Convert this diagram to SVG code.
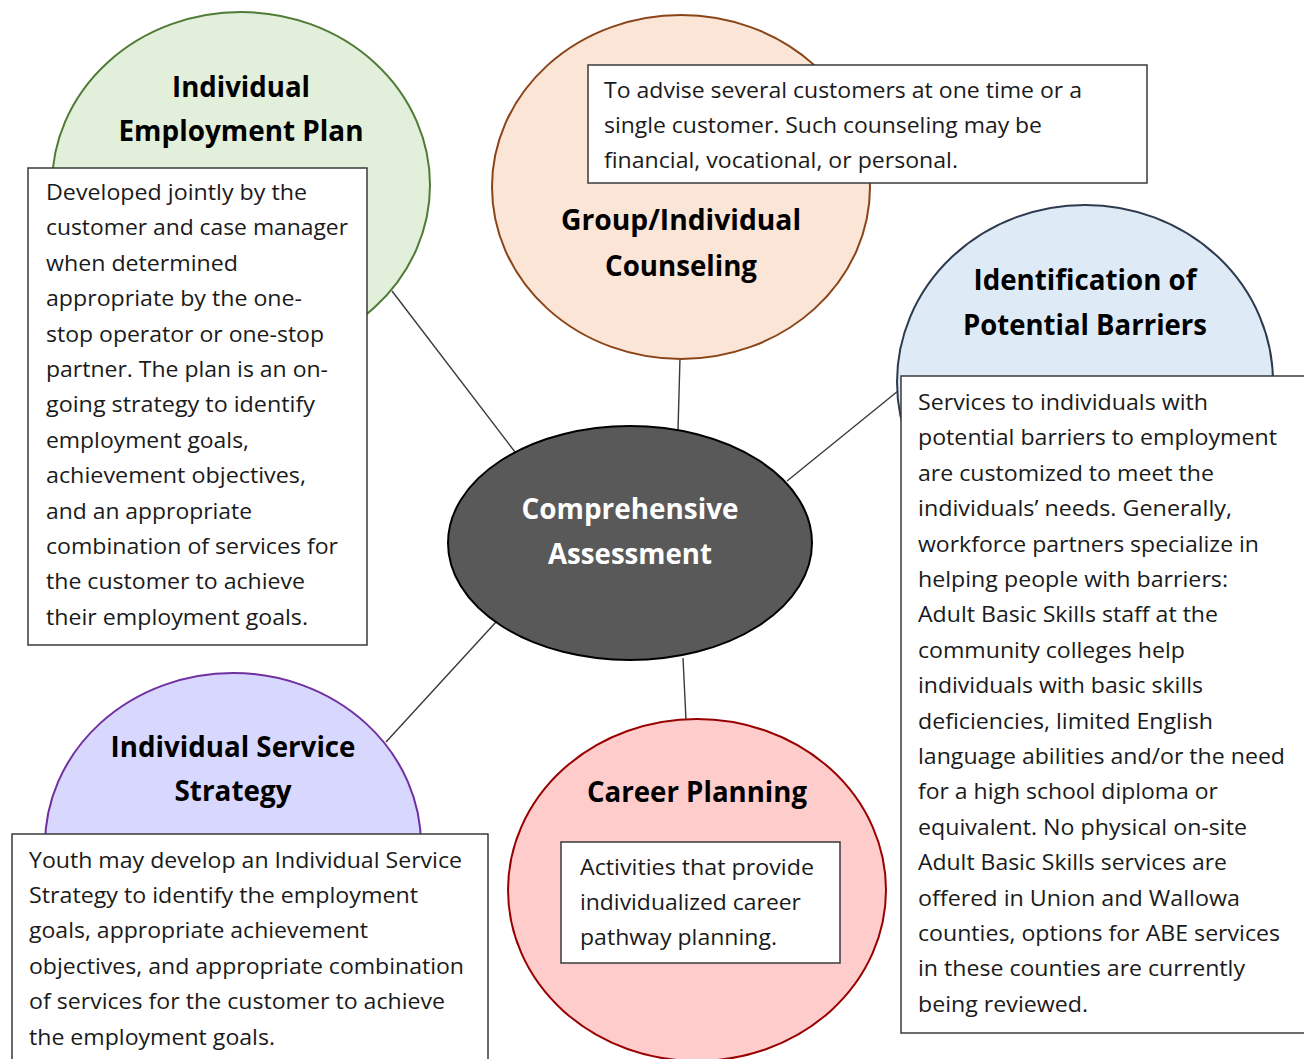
<svg xmlns="http://www.w3.org/2000/svg" width="1304" height="1059" viewBox="0 0 1304 1059">
  <style>
    .body { font-family: "Open Sans", "Liberation Sans", sans-serif; font-size: 21px; fill: #1a1a1a; }
    .title { font-family: "Open Sans", "Liberation Sans", sans-serif; font-size: 28px; font-weight: bold; fill: #000; text-anchor: middle; }
    .title-light { fill: #ffffff; }
    .box { fill: #ffffff; stroke: #3a3a3a; stroke-width: 1.5; }
    .link { stroke: #3a3a3a; stroke-width: 1.4; fill: none; }
  </style>

  <rect x="0" y="0" width="1304" height="1059" fill="#ffffff"/>

  <!-- spokes from the central assessment to each service -->
  <g id="connectors">
    <line class="link" x1="392" y1="291" x2="515" y2="452"/>
    <line class="link" x1="680" y1="358" x2="678" y2="430"/>
    <line class="link" x1="787" y1="481" x2="898" y2="391"/>
    <line class="link" x1="386" y1="742" x2="496" y2="622"/>
    <line class="link" x1="683" y1="658" x2="686" y2="720"/>
  </g>

  <!-- Individual Employment Plan -->
  <g id="node-iep">
    <ellipse cx="241" cy="185" rx="189" ry="173" fill="#E2EFDA" stroke="#4F7B36" stroke-width="2"/>
    <text class="title" x="241" y="97" textLength="138" lengthAdjust="spacingAndGlyphs">Individual</text>
    <text class="title" x="241" y="141" textLength="245" lengthAdjust="spacingAndGlyphs">Employment Plan</text>
    <rect class="box" x="28" y="168" width="339" height="477"/>
    <text class="body" x="46" y="200" textLength="261" lengthAdjust="spacingAndGlyphs">Developed jointly by the</text>
    <text class="body" x="46" y="235.4" textLength="302" lengthAdjust="spacingAndGlyphs">customer and case manager</text>
    <text class="body" x="46" y="270.8" textLength="192" lengthAdjust="spacingAndGlyphs">when determined</text>
    <text class="body" x="46" y="306.2" textLength="256" lengthAdjust="spacingAndGlyphs">appropriate by the one-</text>
    <text class="body" x="46" y="341.6" textLength="278" lengthAdjust="spacingAndGlyphs">stop operator or one-stop</text>
    <text class="body" x="46" y="377" textLength="282" lengthAdjust="spacingAndGlyphs">partner. The plan is an on-</text>
    <text class="body" x="46" y="412.4" textLength="269" lengthAdjust="spacingAndGlyphs">going strategy to identify</text>
    <text class="body" x="46" y="447.8" textLength="203" lengthAdjust="spacingAndGlyphs">employment goals,</text>
    <text class="body" x="46" y="483.2" textLength="260" lengthAdjust="spacingAndGlyphs">achievement objectives,</text>
    <text class="body" x="46" y="518.6" textLength="206" lengthAdjust="spacingAndGlyphs">and an appropriate</text>
    <text class="body" x="46" y="554" textLength="292" lengthAdjust="spacingAndGlyphs">combination of services for</text>
    <text class="body" x="46" y="589.4" textLength="259" lengthAdjust="spacingAndGlyphs">the customer to achieve</text>
    <text class="body" x="46" y="624.8" textLength="262" lengthAdjust="spacingAndGlyphs">their employment goals.</text>
  </g>

  <!-- Group/Individual Counseling -->
  <g id="node-counseling">
    <ellipse cx="681" cy="187" rx="189" ry="172" fill="#FBE5D6" stroke="#8A4418" stroke-width="2"/>
    <rect class="box" x="588" y="65" width="559" height="118"/>
    <text class="body" x="604" y="98" textLength="478" lengthAdjust="spacingAndGlyphs">To advise several customers at one time or a</text>
    <text class="body" x="604" y="133" textLength="438" lengthAdjust="spacingAndGlyphs">single customer. Such counseling may be</text>
    <text class="body" x="604" y="168" textLength="354" lengthAdjust="spacingAndGlyphs">financial, vocational, or personal.</text>
    <text class="title" x="681" y="230" textLength="240" lengthAdjust="spacingAndGlyphs">Group/Individual</text>
    <text class="title" x="681" y="276" textLength="152" lengthAdjust="spacingAndGlyphs">Counseling</text>
  </g>

  <!-- Identification of Potential Barriers -->
  <g id="node-barriers">
    <ellipse cx="1085" cy="382" rx="188" ry="177" fill="#DEEBF7" stroke="#2E3A4E" stroke-width="2"/>
    <text class="title" x="1085" y="290" textLength="223" lengthAdjust="spacingAndGlyphs">Identification of</text>
    <text class="title" x="1085" y="335" textLength="244" lengthAdjust="spacingAndGlyphs">Potential Barriers</text>
    <rect class="box" x="901" y="376" width="420" height="657"/>
    <text class="body" x="918" y="410" textLength="290" lengthAdjust="spacingAndGlyphs">Services to individuals with</text>
    <text class="body" x="918" y="445.4" textLength="359" lengthAdjust="spacingAndGlyphs">potential barriers to employment</text>
    <text class="body" x="918" y="480.8" textLength="296" lengthAdjust="spacingAndGlyphs">are customized to meet the</text>
    <text class="body" x="918" y="516.2" textLength="314" lengthAdjust="spacingAndGlyphs">individuals’ needs. Generally,</text>
    <text class="body" x="918" y="551.6" textLength="341" lengthAdjust="spacingAndGlyphs">workforce partners specialize in</text>
    <text class="body" x="918" y="587" textLength="310" lengthAdjust="spacingAndGlyphs">helping people with barriers:</text>
    <text class="body" x="918" y="622.4" textLength="300" lengthAdjust="spacingAndGlyphs">Adult Basic Skills staff at the</text>
    <text class="body" x="918" y="657.8" textLength="267" lengthAdjust="spacingAndGlyphs">community colleges help</text>
    <text class="body" x="918" y="693.2" textLength="285" lengthAdjust="spacingAndGlyphs">individuals with basic skills</text>
    <text class="body" x="918" y="728.6" textLength="295" lengthAdjust="spacingAndGlyphs">deficiencies, limited English</text>
    <text class="body" x="918" y="764" textLength="367" lengthAdjust="spacingAndGlyphs">language abilities and/or the need</text>
    <text class="body" x="918" y="799.4" textLength="300" lengthAdjust="spacingAndGlyphs">for a high school diploma or</text>
    <text class="body" x="918" y="834.8" textLength="329" lengthAdjust="spacingAndGlyphs">equivalent. No physical on-site</text>
    <text class="body" x="918" y="870.2" textLength="309" lengthAdjust="spacingAndGlyphs">Adult Basic Skills services are</text>
    <text class="body" x="918" y="905.6" textLength="322" lengthAdjust="spacingAndGlyphs">offered in Union and Wallowa</text>
    <text class="body" x="918" y="941" textLength="362" lengthAdjust="spacingAndGlyphs">counties, options for ABE services</text>
    <text class="body" x="918" y="976.4" textLength="327" lengthAdjust="spacingAndGlyphs">in these counties are currently</text>
    <text class="body" x="918" y="1011.8" textLength="170" lengthAdjust="spacingAndGlyphs">being reviewed.</text>
  </g>

  <!-- Comprehensive Assessment (hub) -->
  <g id="node-assessment">
    <ellipse cx="630" cy="543" rx="182" ry="117" fill="#595959" stroke="#000000" stroke-width="2"/>
    <text class="title title-light" x="630" y="519" textLength="217" lengthAdjust="spacingAndGlyphs">Comprehensive</text>
    <text class="title title-light" x="630" y="564" textLength="164" lengthAdjust="spacingAndGlyphs">Assessment</text>
  </g>

  <!-- Individual Service Strategy -->
  <g id="node-iss">
    <ellipse cx="233" cy="845" rx="188" ry="172" fill="#D8D8FF" stroke="#7030A0" stroke-width="2"/>
    <text class="title" x="233" y="757" textLength="245" lengthAdjust="spacingAndGlyphs">Individual Service</text>
    <text class="title" x="233" y="801" textLength="117" lengthAdjust="spacingAndGlyphs">Strategy</text>
    <rect class="box" x="12" y="834" width="476" height="240"/>
    <text class="body" x="29" y="867.5" textLength="433" lengthAdjust="spacingAndGlyphs">Youth may develop an Individual Service</text>
    <text class="body" x="29" y="902.9" textLength="389" lengthAdjust="spacingAndGlyphs">Strategy to identify the employment</text>
    <text class="body" x="29" y="938.3" textLength="339" lengthAdjust="spacingAndGlyphs">goals, appropriate achievement</text>
    <text class="body" x="29" y="973.7" textLength="435" lengthAdjust="spacingAndGlyphs">objectives, and appropriate combination</text>
    <text class="body" x="29" y="1009.1" textLength="416" lengthAdjust="spacingAndGlyphs">of services for the customer to achieve</text>
    <text class="body" x="29" y="1044.5" textLength="246" lengthAdjust="spacingAndGlyphs">the employment goals.</text>
  </g>

  <!-- Career Planning -->
  <g id="node-career">
    <ellipse cx="697" cy="890" rx="189" ry="171" fill="#FFCCCC" stroke="#990000" stroke-width="2"/>
    <text class="title" x="697" y="802" textLength="220" lengthAdjust="spacingAndGlyphs">Career Planning</text>
    <rect class="box" x="561" y="842" width="279" height="121"/>
    <text class="body" x="580" y="875" textLength="234" lengthAdjust="spacingAndGlyphs">Activities that provide</text>
    <text class="body" x="580" y="910.2" textLength="221" lengthAdjust="spacingAndGlyphs">individualized career</text>
    <text class="body" x="580" y="945.4" textLength="197" lengthAdjust="spacingAndGlyphs">pathway planning.</text>
  </g>
</svg>
